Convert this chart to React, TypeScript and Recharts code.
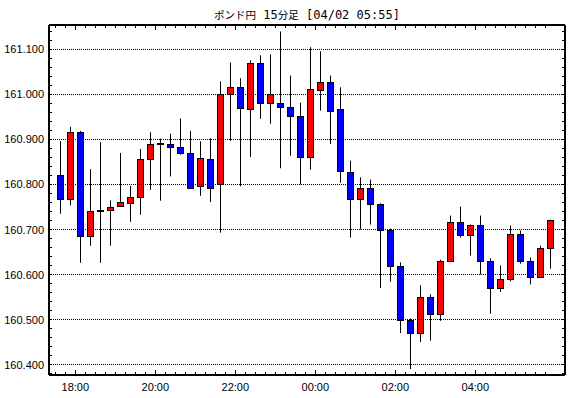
import React from "react";
import { ComposedChart, Bar, XAxis, YAxis, ReferenceLine } from "recharts";

const title = ["ポンド円", " 15", "分足", " [04/02 05:55]"];

const times = [
  "17:30", "17:45", "18:00", "18:15", "18:30", "18:45", "19:00", "19:15", "19:30", "19:45",
  "20:00", "20:15", "20:30", "20:45", "21:00", "21:15", "21:30", "21:45", "22:00", "22:15",
  "22:30", "22:45", "23:00", "23:15", "23:30", "23:45", "00:00", "00:15", "00:30", "00:45",
  "01:00", "01:15", "01:30", "01:45", "02:00", "02:15", "02:30", "02:45", "03:00", "03:15",
  "03:30", "03:45", "04:00", "04:15", "04:30", "04:45", "05:00", "05:15", "05:30", "05:45",
];

const opens = [
  160.822, 160.768, 160.916, 160.686, 160.742, 160.744, 160.752, 160.759, 160.773, 160.856,
  160.893, 160.889, 160.884, 160.871, 160.796, 160.856, 160.8, 161.0, 161.016, 160.967,
  161.069, 160.98, 160.98, 160.973, 160.953, 160.862, 161.009, 161.027, 160.967, 160.827,
  160.767, 160.793, 160.757, 160.698, 160.62, 160.5, 160.469, 160.549, 160.512, 160.629,
  160.716, 160.687, 160.709, 160.629, 160.571, 160.589, 160.691, 160.629, 160.594, 160.658,
];
const highs = [
  160.896, 160.928, 160.919, 160.834, 160.894, 160.765, 160.87, 160.797, 160.879, 160.916,
  160.902, 160.913, 160.947, 160.919, 160.896, 160.903, 161.029, 161.071, 161.036, 161.076,
  161.087, 161.089, 161.14, 161.042, 160.982, 161.105, 161.096, 161.042, 161.016, 160.853,
  160.816, 160.811, 160.758, 160.702, 160.627, 160.502, 160.576, 160.556, 160.633, 160.731,
  160.751, 160.711, 160.731, 160.636, 160.62, 160.709, 160.698, 160.638, 160.664, 160.722,
];
const lows = [
  160.735, 160.754, 160.626, 160.664, 160.626, 160.664, 160.75, 160.717, 160.733, 160.788,
  160.764, 160.818, 160.866, 160.79, 160.775, 160.761, 160.693, 160.897, 160.796, 160.861,
  160.946, 160.935, 160.836, 160.864, 160.8, 160.833, 160.964, 160.89, 160.804, 160.682,
  160.7, 160.711, 160.57, 160.584, 160.47, 160.39, 160.45, 160.453, 160.497, 160.629,
  160.682, 160.642, 160.6, 160.513, 160.561, 160.585, 160.624, 160.578, 160.593, 160.613,
];
const closes = [
  160.768, 160.916, 160.686, 160.742, 160.744, 160.751, 160.761, 160.773, 160.856, 160.889,
  160.891, 160.884, 160.871, 160.793, 160.858, 160.793, 161.0, 161.016, 160.969, 161.069,
  160.98, 161.002, 160.973, 160.953, 160.862, 161.013, 161.027, 160.964, 160.829, 160.767,
  160.793, 160.757, 160.698, 160.619, 160.5, 160.469, 160.549, 160.512, 160.631, 160.716,
  160.687, 160.709, 160.629, 160.571, 160.589, 160.689, 160.629, 160.594, 160.658, 160.72,
];

const timeLabels = ["18:00", "20:00", "22:00", "00:00", "02:00", "04:00"];
const priceLabels = [160.4, 160.5, 160.6, 160.7, 160.8, 160.9, 161.0, 161.1];

const data = times.map((t, i) => ({
  x: i + 0.5,
  time: t,
  open: opens[i],
  close: closes[i],
  high: highs[i],
  low: lows[i],
  range: [lows[i], highs[i]],
}));

// one tick per 15 minute slot boundary
const slotTicks = times.map((_, i) => i);
const priceTicks: number[] = [];
for (let k = 0; k <= 38; k++) priceTicks.push(Math.round((160.38 + k * 0.02) * 1000) / 1000);

const isMajorPrice = (v: number) => priceLabels.some((p) => Math.abs(p - v) < 1e-6);
const font = "'Liberation Sans', Arial, sans-serif";

const Candle = (props: any) => {
  const { x, y, width, height, payload } = props;
  const top = Math.min(y, y + height);
  const h = Math.abs(height);
  const span = payload.high - payload.low;
  const pix = (v: number) => top + ((payload.high - v) / span) * h;
  const cx = Math.round(x + width / 2) + 0.5;
  const up = payload.close >= payload.open;
  const bTop = Math.round(pix(Math.max(payload.open, payload.close))) + 0.5;
  const bBot = Math.round(pix(Math.min(payload.open, payload.close))) + 0.5;
  return (
    <g>
      <line x1={cx} x2={cx} y1={top} y2={top + h} stroke="#000" strokeWidth={1} />
      <rect
        x={cx - 3}
        y={bTop}
        width={6}
        height={Math.max(bBot - bTop, 1)}
        fill={up ? "#ff0000" : "#0000ff"}
        stroke="#000"
        strokeWidth={1}
      />
    </g>
  );
};

const BottomTick = (props: any) => {
  const { x, y, payload } = props;
  const label = times[payload.value];
  const major = timeLabels.includes(label);
  const px = Math.round(x) + 0.5;
  return (
    <g>
      <line x1={px} x2={px} y1={y} y2={y - (major ? 5 : 3)} stroke="#000" />
      {major && (
        <text x={x} y={y + 16} textAnchor="middle" fontSize={11} fontFamily={font} fill="#000">
          {label}
        </text>
      )}
    </g>
  );
};

const TopTick = (props: any) => {
  const { x, y, payload } = props;
  const major = timeLabels.includes(times[payload.value]);
  const px = Math.round(x) + 0.5;
  return <line x1={px} x2={px} y1={y} y2={y + (major ? 5 : 3)} stroke="#000" />;
};

const LeftTick = (props: any) => {
  const { x, y, payload } = props;
  const major = isMajorPrice(payload.value);
  return (
    <g>
      <line x1={x} x2={x + 3} y1={y} y2={y} stroke="#000" shapeRendering="crispEdges" />
      {major && (
        <text x={x - 5} y={y + 4} textAnchor="end" fontSize={11} fontFamily={font} fill="#000">
          {payload.value.toFixed(3)}
        </text>
      )}
    </g>
  );
};

const RightTick = (props: any) => {
  const { x, y } = props;
  return <line x1={x} x2={x - 3} y1={y} y2={y} stroke="#000" shapeRendering="crispEdges" />;
};

const yDomain = [160.3767, 161.1544];
const xDomain = [-0.63, 50.97];
const frame = { stroke: "#000", strokeWidth: 2, shapeRendering: "crispEdges" };

export default function App() {
  return (
    <div style={{ position: "absolute", left: 0, top: 0, width: 570, height: 398, background: "#fff" }}>
      <ComposedChart
        width={570}
        height={398}
        data={data}
        margin={{ top: 24, right: 4, bottom: 3, left: 9 }}
      >
        <XAxis
          type="number"
          dataKey="x"
          domain={xDomain}
          allowDataOverflow
          ticks={slotTicks}
          interval={0}
          tickSize={0}
          tickMargin={0}
          tickLine={false}
          axisLine={frame}
          tick={<BottomTick />}
          height={20}
        />
        <XAxis
          xAxisId="top"
          orientation="top"
          type="number"
          dataKey="x"
          domain={xDomain}
          allowDataOverflow
          ticks={slotTicks}
          interval={0}
          tickSize={0}
          tickMargin={0}
          tickLine={false}
          axisLine={frame}
          tick={<TopTick />}
          height={1}
        />
        <YAxis
          type="number"
          domain={yDomain}
          allowDataOverflow
          ticks={priceTicks}
          interval={0}
          tickSize={0}
          tickMargin={0}
          tickLine={false}
          axisLine={frame}
          tick={<LeftTick />}
          width={40}
        />
        <YAxis
          yAxisId="right"
          orientation="right"
          type="number"
          domain={yDomain}
          allowDataOverflow
          ticks={priceTicks}
          interval={0}
          tickSize={0}
          tickMargin={0}
          tickLine={false}
          axisLine={frame}
          tick={<RightTick />}
          width={1}
        />
        {priceLabels.map((p) => (
          <ReferenceLine
            key={p}
            y={p}
            stroke="#000"
            strokeWidth={1}
            strokeDasharray="1 1"
            shapeRendering="crispEdges"
          />
        ))}
        <Bar dataKey="range" barSize={7} shape={<Candle />} isAnimationActive={false} />
      </ComposedChart>
      <svg width={570} height={398} style={{ position: "absolute", left: 0, top: 0, pointerEvents: "none" }}>
        <text x={307} y={19} textAnchor="middle" fontSize={12} fontFamily="'DejaVu Sans Mono', monospace" fill="#000">
          <tspan fontFamily="'Noto Sans CJK JP'" fontSize={10.5}>{title[0]}</tspan>
          <tspan>{title[1]}</tspan>
          <tspan fontFamily="'Noto Sans CJK JP'" fontSize={10.5}>{title[2]}</tspan>
          <tspan>{title[3]}</tspan>
        </text>
      </svg>
    </div>
  );
}
